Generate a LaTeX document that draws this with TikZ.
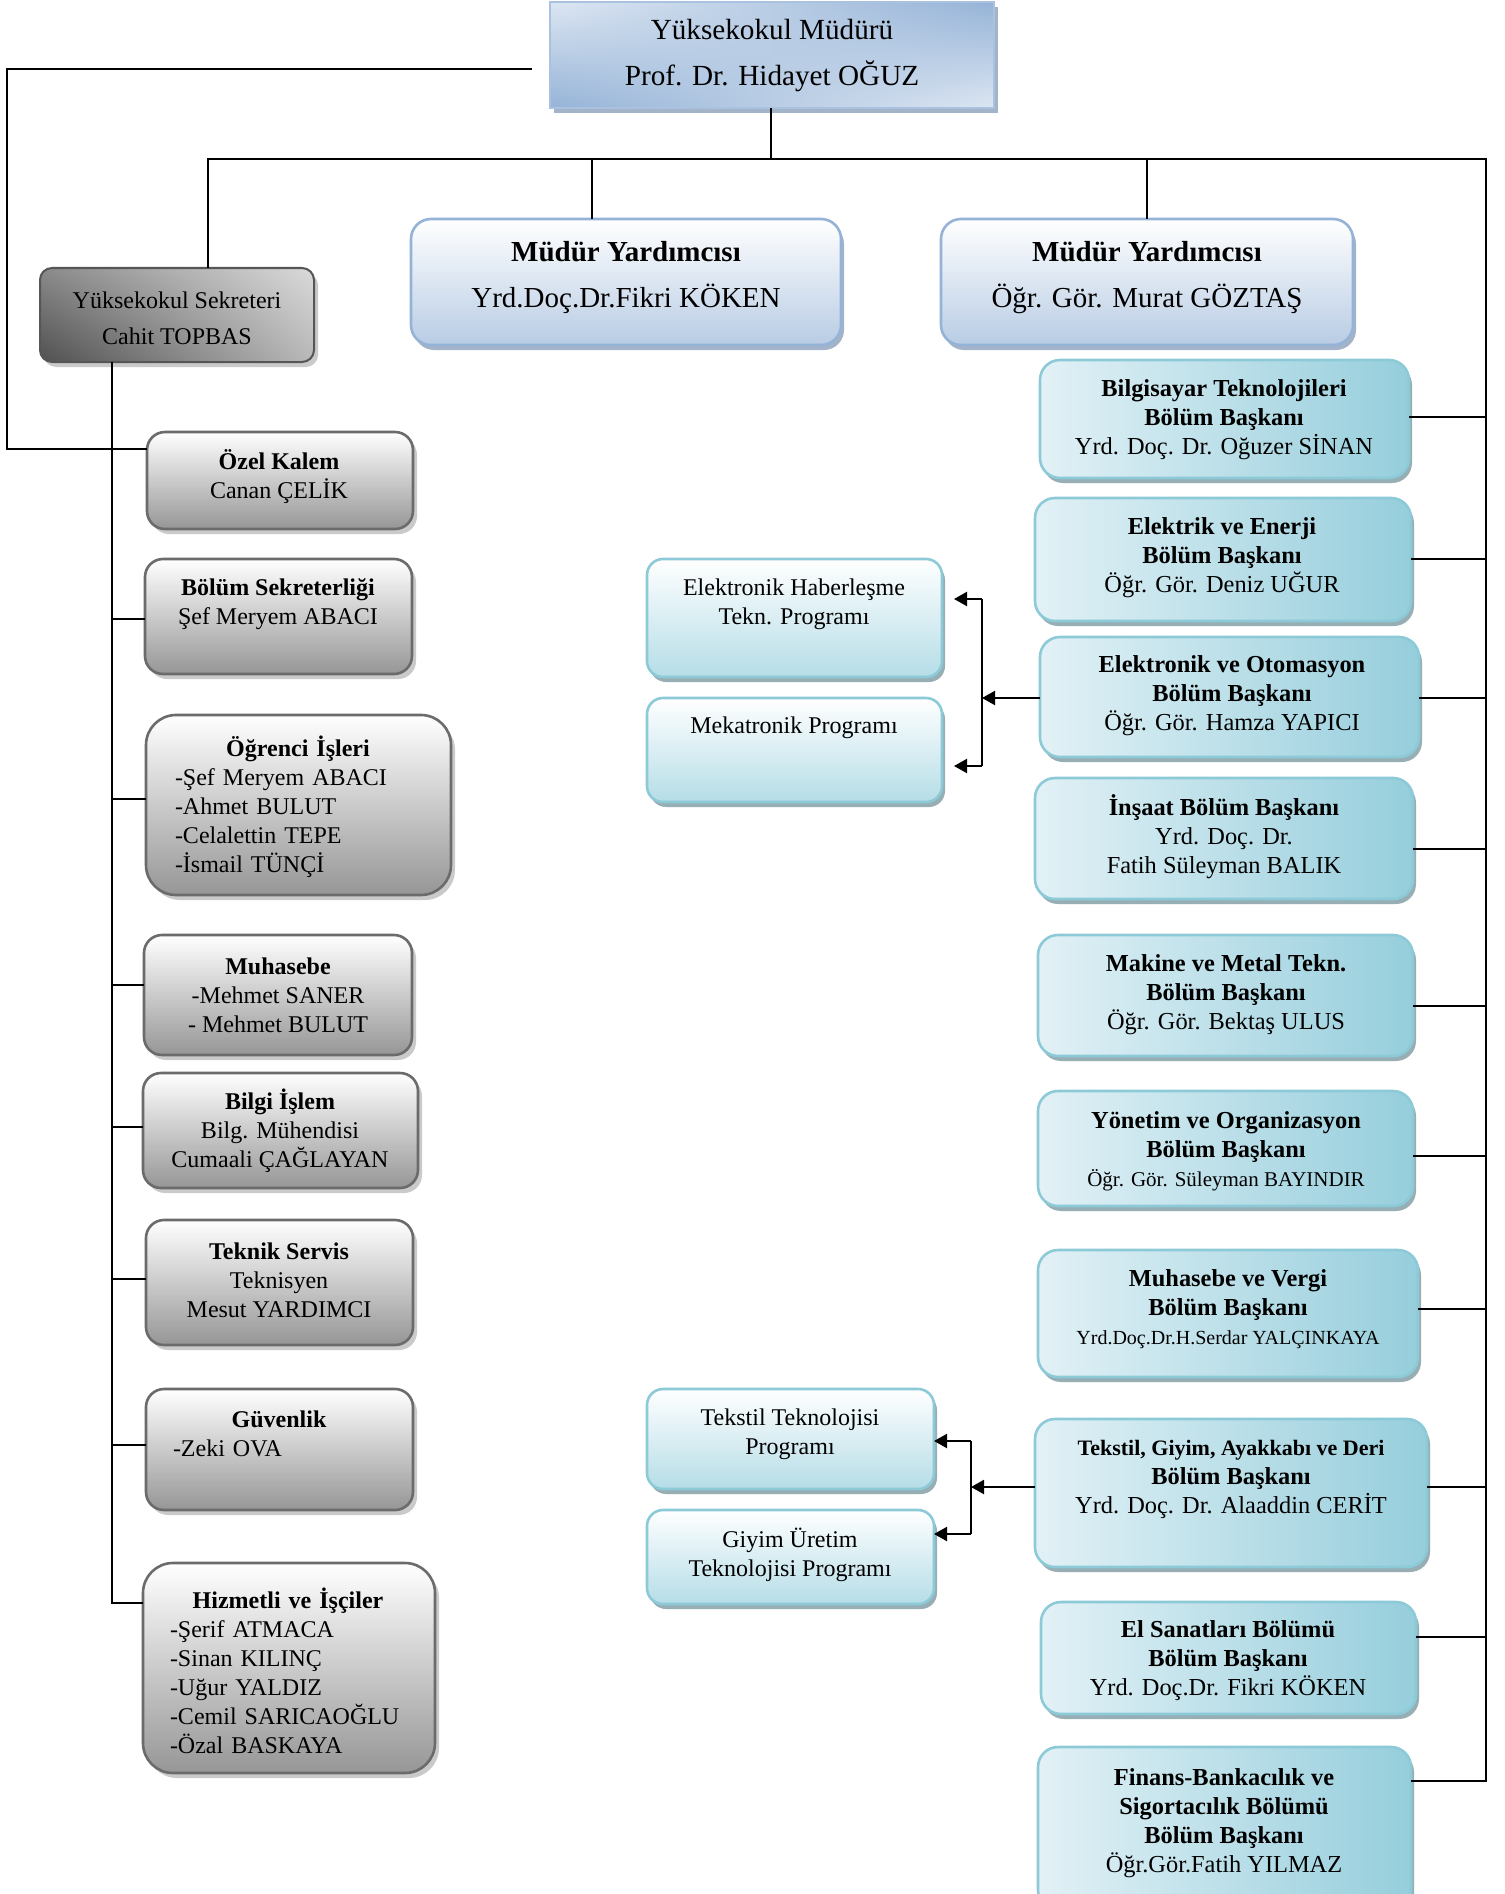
\documentclass[tikz,border=0pt]{standalone}
\usepackage{fontspec}
\setmainfont{Liberation Serif}
\usetikzlibrary{shadows,shadings,arrows.meta,calc}
\definecolor{gbot}{HTML}{969696}
\definecolor{gbord}{HTML}{6B6B6B}
\definecolor{gshad}{HTML}{CACACA}
\definecolor{blA}{HTML}{E2F1F6}
\definecolor{blB}{HTML}{96CEDC}
\definecolor{blbord}{HTML}{8DCAD8}
\definecolor{blshad}{HTML}{97AEB5}
\definecolor{pbot}{HTML}{B5DDE7}
\definecolor{mybot}{HTML}{B8CCE4}
\definecolor{mybord}{HTML}{95B3D7}
\definecolor{myshad}{HTML}{A3B3C8}
\definecolor{bossA}{HTML}{DCE6F2}
\definecolor{bossB}{HTML}{95B3D7}
\definecolor{skA}{HTML}{8A8A8A}
\definecolor{skB}{HTML}{DADADA}
\definecolor{skC}{HTML}{505050}
\definecolor{skD}{HTML}{B8B8B8}
\tikzset{
  x=0.5pt, y=-0.5pt,
  every node/.style={inner sep=0pt, outer sep=0pt},
  gbox/.style={draw=gbord, line width=1.3pt, rounded corners=9pt, top color=white, bottom color=gbot,
    drop shadow={shadow xshift=2pt, shadow yshift=-2.5pt, fill=gshad, opacity=1}},
  rbox/.style={draw=blbord, line width=1.3pt, rounded corners=10pt, left color=blA, right color=blB,
    drop shadow={shadow xshift=1.5pt, shadow yshift=-2.5pt, fill=blshad, opacity=1}},
  pbox/.style={draw=blbord, line width=1.3pt, rounded corners=8pt, top color=white, bottom color=pbot,
    drop shadow={shadow xshift=1.5pt, shadow yshift=-2.5pt, fill=blshad, opacity=1}},
  mybox/.style={draw=mybord, line width=1.3pt, rounded corners=10pt, top color=white, bottom color=mybot,
    drop shadow={shadow xshift=1.5pt, shadow yshift=-2.5pt, fill=myshad, opacity=1}},
  bossbox/.style={draw=mybord!80, line width=1pt, shading=bilinear interpolation,
    upper left=bossA, upper right=bossB, lower left=bossB, lower right=bossA,
    drop shadow={shadow xshift=2pt, shadow yshift=-2.5pt, fill=myshad, opacity=1}},
  sekbox/.style={draw=gbord!80!black, line width=1pt, rounded corners=6pt, shading=bilinear interpolation,
    upper left=skA, upper right=skB, lower left=skC, lower right=skD,
    drop shadow={shadow xshift=2pt, shadow yshift=-2.5pt, fill=gshad, opacity=1}},
  txt/.style={align=center, font=\fontsize{12}{14.5}\selectfont},
  rtxt/.style={align=center, font=\fontsize{12.2}{14.5}\selectfont},
  ltxt/.style={align=left, text width=#1, font=\fontsize{12}{14.5}\selectfont},
  conn/.style={line width=1.1pt},
  arr/.style={line width=1.1pt, -{Triangle[length=6.5pt,width=7pt]}},
}
\begin{document}
\begin{tikzpicture}
\clip (0,0) rectangle (1504,1894);
\fill[white] (0,0) rectangle (1504,1894);

% ---- boxes ----
\node[bossbox, minimum width=222pt, minimum height=53pt] (boss) at (772,55) {};
\node[sekbox, minimum width=137pt, minimum height=47pt] (sek) at (177,315) {};
\node[mybox, minimum width=215pt, minimum height=63pt] (my1) at (626,282) {};
\node[mybox, minimum width=206pt, minimum height=63pt] (my2) at (1147,282) {};

\node[gbox, minimum width=133pt, minimum height=48.5pt] (ozel) at (280,480.5) {};
\node[gbox, minimum width=133.5pt, minimum height=57.5pt] (bsek) at (278.5,616.5) {};
\node[gbox, rounded corners=15pt, minimum width=152.5pt, minimum height=90pt] (ogr) at (298.5,805) {};
\node[gbox, minimum width=134pt, minimum height=60pt] (muh) at (278,995) {};
\node[gbox, minimum width=137.5pt, minimum height=57.5pt] (bilgi) at (280.5,1130.5) {};
\node[gbox, minimum width=133.5pt, minimum height=62.5pt] (tek) at (279.5,1282.5) {};
\node[gbox, minimum width=133.5pt, minimum height=60.5pt] (guv) at (279.5,1449.5) {};
\node[gbox, rounded corners=15pt, minimum width=146pt, minimum height=105pt] (hiz) at (289,1668) {};

\node[rbox, minimum width=184.5pt, minimum height=59pt] (bilg) at (1224.5,419) {};
\node[rbox, minimum width=188pt, minimum height=61.5pt] (elek) at (1223,559.5) {};
\node[rbox, minimum width=189.5pt, minimum height=60pt] (oto) at (1229.5,697) {};
\node[rbox, minimum width=189pt, minimum height=60.5pt] (insaat) at (1224,838.5) {};
\node[rbox, minimum width=187.5pt, minimum height=60.5pt] (makine) at (1225.5,995.5) {};
\node[rbox, minimum width=187.5pt, minimum height=57.5pt] (yon) at (1225.5,1148.5) {};
\node[rbox, minimum width=190pt, minimum height=63.5pt] (muhv) at (1228,1313.5) {};
\node[rbox, minimum width=196pt, minimum height=74pt] (tgad) at (1231,1493) {};
\node[rbox, minimum width=187.5pt, minimum height=56pt] (elsan) at (1228.5,1658) {};
\node[rbox, minimum width=186.5pt, minimum height=81.5pt] (finans) at (1224.5,1828.5) {};

\node[pbox, minimum width=147.5pt, minimum height=59pt] (ehab) at (794.5,618) {};
\node[pbox, minimum width=147.5pt, minimum height=52pt] (meka) at (794.5,750) {};
\node[pbox, minimum width=143.5pt, minimum height=50pt] (tekp) at (790.5,1439) {};
\node[pbox, minimum width=143.5pt, minimum height=47pt] (giyp) at (790.5,1557) {};

% ---- texts ----
\node[align=center, font=\fontsize{14.6}{23}\selectfont] (bossT) at (772,56) {Yüksekokul Müdürü\\Prof. Dr. Hidayet OĞUZ};
\node[align=center, font=\fontsize{12}{18}\selectfont] (sekT) at (177,318) {Yüksekokul Sekreteri\\Cahit TOPBAS};
\node[align=center, font=\fontsize{14.5}{23}\selectfont] (my1T) at (626,278) {\textbf{Müdür Yardımcısı}\\Yrd.Doç.Dr.Fikri KÖKEN};
\node[align=center, font=\fontsize{14.5}{23}\selectfont] (my2T) at (1147,278) {\textbf{Müdür Yardımcısı}\\Öğr. Gör. Murat GÖZTAŞ};

\node[txt] (ozelT) at (279,477) {\textbf{Özel Kalem}\\Canan ÇELİK};
\node[txt] (bsekT) at (278,604) {\textbf{Bölüm Sekreterliği}\\Şef Meryem ABACI};
\node[ltxt=123pt] (ogrT) at (298,807) {\makebox[\linewidth]{\textbf{Öğrenci İşleri}}\\-Şef Meryem ABACI\\-Ahmet BULUT\\-Celalettin TEPE\\-İsmail TÜNÇİ};
\node[txt] (muhT) at (278,995) {\textbf{Muhasebe}\\-Mehmet SANER\\- Mehmet BULUT};
\node[txt] (bilgiT) at (280,1131) {\textbf{Bilgi İşlem}\\Bilg. Mühendisi\\Cumaali ÇAĞLAYAN};
\node[txt] (tekT) at (279,1280) {\textbf{Teknik Servis}\\Teknisyen\\Mesut YARDIMCI};
\node[ltxt=106pt] (guvT) at (279,1434) {\makebox[\linewidth]{\textbf{Güvenlik}}\\-Zeki OVA};
\node[ltxt=118pt] (hizT) at (288,1671) {\makebox[\linewidth]{\textbf{Hizmetli ve İşçiler}}\\-Şerif ATMACA\\-Sinan KILINÇ\\-Uğur YALDIZ\\-Cemil SARICAOĞLU\\-Özal BASKAYA};

\node[rtxt] (bilgT) at (1224,420) {\textbf{Bilgisayar Teknolojileri}\\\textbf{Bölüm Başkanı}\\Yrd. Doç. Dr. Oğuzer SİNAN};
\node[rtxt] (elekT) at (1222,558) {\textbf{Elektrik ve Enerji}\\\textbf{Bölüm Başkanı}\\Öğr. Gör. Deniz UĞUR};
\node[rtxt] (otoT) at (1232,696) {\textbf{Elektronik ve Otomasyon}\\\textbf{Bölüm Başkanı}\\Öğr. Gör. Hamza YAPICI};
\node[rtxt] (insaatT) at (1224,837) {\textbf{İnşaat Bölüm Başkanı}\\Yrd. Doç. Dr.\\Fatih Süleyman BALIK};
\node[rtxt] (makineT) at (1226,995) {\textbf{Makine ve Metal Tekn.}\\\textbf{Bölüm Başkanı}\\Öğr. Gör. Bektaş ULUS};
\node[rtxt] (yonT) at (1226,1151) {\textbf{Yönetim ve Organizasyon}\\\textbf{Bölüm Başkanı}\\{\fontsize{10.5}{12}\selectfont Öğr. Gör. Süleyman BAYINDIR}};
\node[rtxt] (muhvT) at (1228,1309) {\textbf{Muhasebe ve Vergi}\\\textbf{Bölüm Başkanı}\\{\fontsize{10}{12}\selectfont Yrd.Doç.Dr.H.Serdar YALÇINKAYA}};
\node[rtxt] (tgadT) at (1231,1479) {{\fontsize{11}{14}\selectfont\textbf{Tekstil, Giyim, Ayakkabı ve Deri}}\\\textbf{Bölüm Başkanı}\\Yrd. Doç. Dr. Alaaddin CERİT};
\node[rtxt] (elsanT) at (1228,1661) {\textbf{El Sanatları Bölümü}\\\textbf{Bölüm Başkanı}\\Yrd. Doç.Dr. Fikri KÖKEN};
\node[rtxt] (finansT) at (1224,1823) {\textbf{Finans-Bankacılık ve}\\\textbf{Sigortacılık Bölümü}\\\textbf{Bölüm Başkanı}\\Öğr.Gör.Fatih YILMAZ};

\node[txt] (ehabT) at (794,604) {Elektronik Haberleşme\\Tekn. Programı};
\node[txt] (mekaT) at (794,728) {Mekatronik Programı};
\node[txt] (tekpT) at (790,1434) {Tekstil Teknolojisi\\Programı};
\node[txt] (giypT) at (790,1555) {Giyim Üretim\\Teknolojisi Programı};

% ---- connectors ----
\coordinate (bossL) at (532,69);
\coordinate (hub) at (771,159);
\coordinate (rbus) at (1486,0);
\coordinate (lbus) at (112,0);
\coordinate (lout) at (7,69);

\draw[conn] (bossL) -- (lout) |- ([yshift=15.75pt]ozel.west);
\draw[conn] (boss.south -| hub) -- (hub);
\draw[conn] ([xshift=15.5pt]sek.north) |- (rbus |- hub) -- (rbus |- 0,1781) -- (finans.east |- 0,1781);
\draw[conn] ([xshift=-17pt]my1.north) -- ([xshift=-17pt]my1.north |- hub);
\draw[conn] (my2.north) -- (my2.north |- hub);

\draw[conn] (sek.south -| lbus) |- (hiz.west |- 0,1603);
\draw[conn] (lbus |- 0,619) -- (bsek.west |- 0,619);
\draw[conn] (lbus |- 0,799) -- (ogr.west |- 0,799);
\draw[conn] (lbus |- 0,985) -- (muh.west |- 0,985);
\draw[conn] (lbus |- 0,1127) -- (bilgi.west |- 0,1127);
\draw[conn] (lbus |- 0,1279) -- (tek.west |- 0,1279);
\draw[conn] (lbus |- 0,1445) -- (guv.west |- 0,1445);

\draw[conn] (bilg.east |- 0,417) -- (rbus |- 0,417);
\draw[conn] (elek.east |- 0,559) -- (rbus |- 0,559);
\draw[conn] (oto.east |- 0,698) -- (rbus |- 0,698);
\draw[conn] (insaat.east |- 0,849) -- (rbus |- 0,849);
\draw[conn] (makine.east |- 0,1006) -- (rbus |- 0,1006);
\draw[conn] (yon.east |- 0,1156) -- (rbus |- 0,1156);
\draw[conn] (muhv.east |- 0,1309) -- (rbus |- 0,1309);
\draw[conn] (tgad.east |- 0,1487) -- (rbus |- 0,1487);
\draw[conn] (elsan.east |- 0,1637) -- (rbus |- 0,1637);

% program arrows
\coordinate (ej) at (982,698);
\coordinate (ehabR) at ([xshift=6pt]ehab.east);
\coordinate (mekaR) at ([xshift=6pt]meka.east);
\draw[arr] (oto.west |- ej) -- (ej);
\draw[conn] (ej |- 0,599) -- (ej |- 0,766);
\draw[arr] (ej |- 0,599) -- (ehabR |- 0,599);
\draw[arr] (ej |- 0,766) -- (mekaR |- 0,766);

\coordinate (tj) at (971,1487);
\draw[arr] (tgad.west |- tj) -- (tj);
\draw[conn] (tj |- 0,1441) -- (tj |- 0,1534);
\draw[arr] (tj |- 0,1441) -- (tekp.east |- 0,1441);
\draw[arr] (tj |- 0,1534) -- (giyp.east |- 0,1534);
\end{tikzpicture}
\end{document}
